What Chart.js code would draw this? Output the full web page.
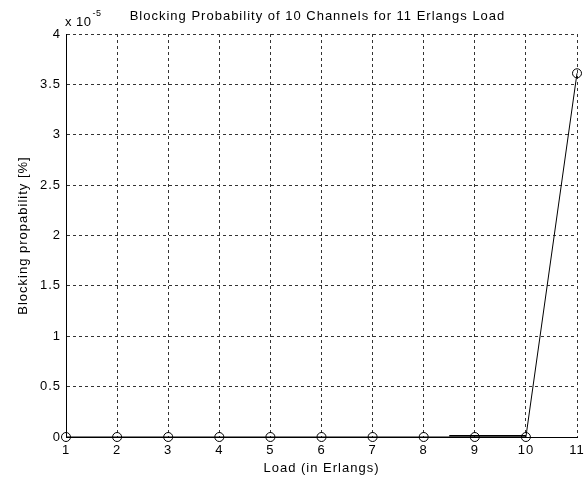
<!DOCTYPE html>
<html>
<head>
<meta charset="utf-8">
<script src="https://cdn.jsdelivr.net/npm/chart.js@4.4.0/dist/chart.umd.min.js"></script>
<style>
html,body{margin:0;padding:0;background:#fff;}
#wrap{position:relative;width:584px;height:485px;}
</style>
</head>
<body>
<div id="wrap"><canvas id="c" width="584" height="485"></canvas></div>
<script>
// Data (y values in units of 1e-5)
const loads = [1, 2, 3, 4, 5, 6, 7, 8, 9, 10, 11];
const blocking = [0, 0, 0, 0, 0, 0, 0, 0, 0, 0, 3.61];
const overlayX = [8.5, 10];
const overlayY = [0.012, 0.012];
const xTicks = [1, 2, 3, 4, 5, 6, 7, 8, 9, 10, 11];
const yTicks = [0, 0.5, 1, 1.5, 2, 2.5, 3, 3.5, 4];
const yExponent = -5;
const titleText = 'Blocking Probability of 10 Channels for 11 Erlangs Load';
const xLabel = 'Load (in Erlangs)';
const yLabel = 'Blocking propability [%]';

const FONT = 'Liberation Sans, Arial, sans-serif';

const spacingPlugin = {
  id: 'spacing',
  beforeDraw(chart) { chart.ctx.letterSpacing = '1px'; }
};

const textPlugin = {
  id: 'texts',
  afterDraw(chart) {
    const ctx = chart.ctx;
    const a = chart.chartArea;
    ctx.save();
    ctx.letterSpacing = '1px';
    ctx.fillStyle = '#000';
    ctx.font = '13px ' + FONT;
    ctx.textAlign = 'center';
    ctx.textBaseline = 'alphabetic';
    ctx.fillText(titleText, (a.left + a.right) / 2 - 4, 20);
    ctx.fillText(xLabel, (a.left + a.right) / 2, 472);
    // multiplier
    ctx.textAlign = 'left';
    ctx.letterSpacing = '0.5px';
    ctx.fillText('x 10', a.left - 1, 26);
    const w = ctx.measureText('x 10').width;
    ctx.font = '9px ' + FONT;
    ctx.fillText(String(yExponent), a.left - 1 + w + 1, 16);
    // y label
    ctx.letterSpacing = '1px';
    ctx.font = '13px ' + FONT;
    ctx.translate(27, (a.top + a.bottom) / 2);
    ctx.rotate(-Math.PI / 2);
    ctx.textAlign = 'center';
    ctx.fillText(yLabel, 0, 0);
    ctx.restore();
  }
};

new Chart(document.getElementById('c'), {
  type: 'line',
  data: {
    datasets: [
      {
        data: loads.map((x, i) => ({x: x, y: blocking[i]})),
        borderColor: '#000',
        borderWidth: 1,
        pointRadius: 4.5,
        pointBorderColor: '#000',
        pointBackgroundColor: 'rgba(0,0,0,0)',
        pointBorderWidth: 1,
        fill: false,
        tension: 0,
        clip: false
      },
      {
        data: overlayX.map((x, i) => ({x: x, y: overlayY[i]})),
        borderColor: '#000',
        borderWidth: 1.5,
        pointRadius: 0,
        fill: false,
        clip: false
      }
    ]
  },
  options: {
    responsive: false,
    animation: false,
    devicePixelRatio: 1,
    layout: {padding: {top: 34, right: 7, left: 0, bottom: 0}},
    plugins: {legend: {display: false}, tooltip: {enabled: false}, title: {display: false}},
    scales: {
      x: {
        type: 'linear',
        min: 1, max: 11,
        afterBuildTicks: s => { s.ticks = xTicks.map(v => ({value: v})); },
        afterFit: s => { s.height = 48; s.paddingLeft = 0; s.paddingRight = 0; },
        ticks: {color: '#000', font: {family: FONT, size: 13}, padding: 6, maxRotation: 0,
          callback: v => String(v)},
        grid: {color: '#333', lineWidth: 1, drawTicks: false},
        border: {display: true, color: '#000', width: 1, dash: [3, 3]}
      },
      y: {
        type: 'linear',
        min: 0, max: 4,
        afterBuildTicks: s => { s.ticks = yTicks.map(v => ({value: v})); },
        afterFit: s => { s.width = 66; s.paddingTop = 0; s.paddingBottom = 0; },
        ticks: {color: '#000', font: {family: FONT, size: 13}, padding: 5,
          callback: v => String(v)},
        grid: {color: '#333', lineWidth: 1, drawTicks: false},
        border: {display: true, color: '#000', width: 1, dash: [3, 3]}
      }
    }
  },
  plugins: [spacingPlugin, textPlugin]
});
</script>
</body>
</html>
